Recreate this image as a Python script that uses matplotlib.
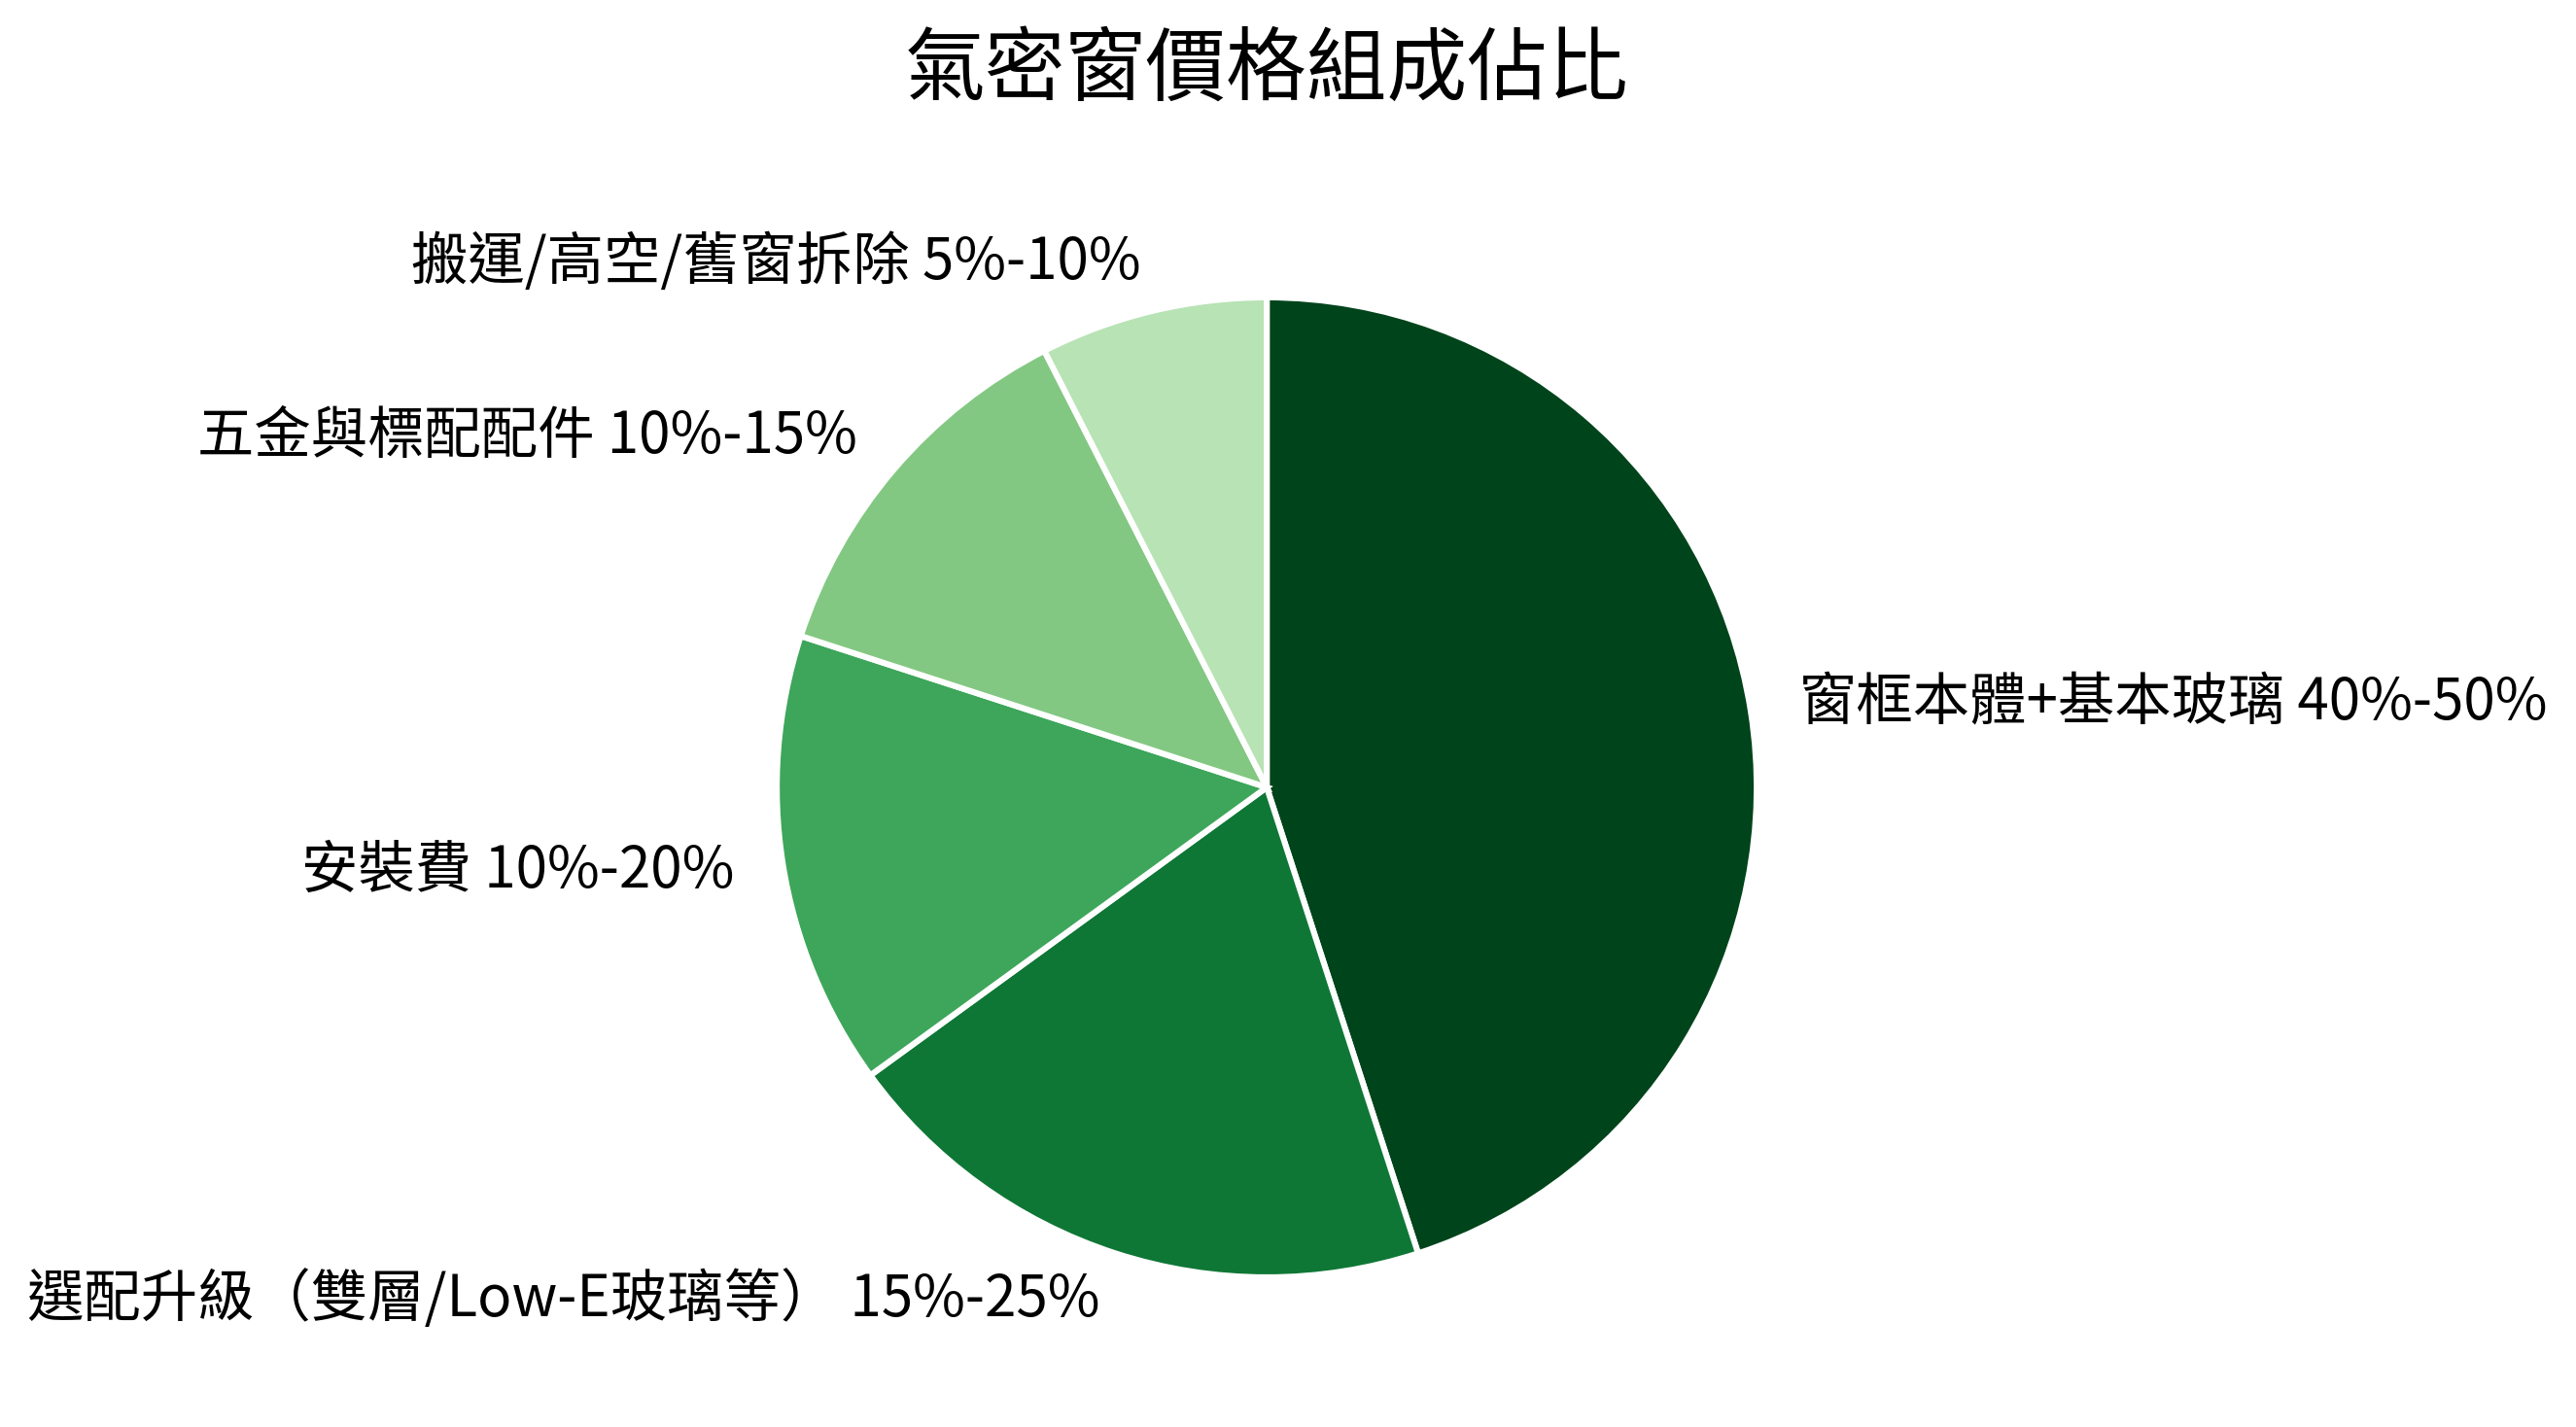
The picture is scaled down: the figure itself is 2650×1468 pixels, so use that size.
import matplotlib
matplotlib.use("Agg")
import matplotlib.pyplot as plt

plt.rcParams['font.family'] = ['Noto Sans CJK TC', 'DejaVu Sans']

# Cost components (midpoints of the quoted ranges)
labels = [
    "窗框本體+基本玻璃 40%-50%",
    "選配升級（雙層/Low-E玻璃等） 15%-25%",
    "安裝費 10%-20%",
    "五金與標配配件 10%-15%",
    "搬運/高空/舊窗拆除 5%-10%",
]
shares = [45, 20, 15, 12.5, 7.5]
colors = ["#00441b", "#0e7735", "#3da65a", "#82c882", "#b8e3b5"]

fig = plt.figure(figsize=(13.25, 7.34), dpi=200)
ax = fig.add_axes([0.2540, 0.0190, 0.4755, 0.8585])

ax.pie(shares, labels=labels, colors=colors, startangle=90, counterclock=False,
       wedgeprops=dict(edgecolor="white", linewidth=2.2),
       textprops=dict(fontsize=21))
ax.set_aspect("equal")

fig.text(0.4917, 0.950, "氣密窗價格組成佔比", fontsize=29.8, ha="center", va="center")

fig.savefig("out.png", dpi=200)
